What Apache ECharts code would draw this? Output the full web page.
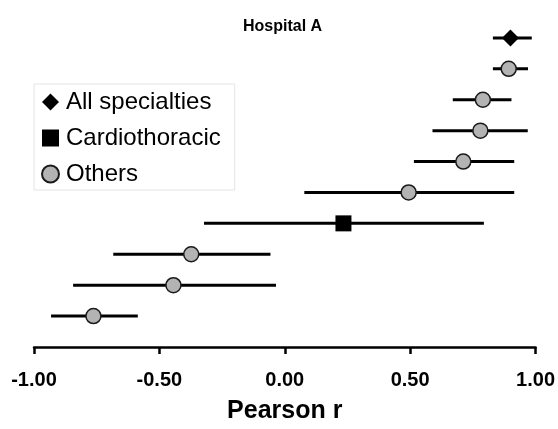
<!DOCTYPE html>
<html><head><meta charset="utf-8">
<script src="https://cdn.jsdelivr.net/npm/echarts@6/dist/echarts.min.js"></script>
<style>html,body{margin:0;padding:0;background:#fff}#c{width:558px;height:429px}</style>
</head><body><div id="c"></div>
<script>
// Row positions (1 = bottom, 10 = top)
const allRow = [10];
const allR = [0.900];
const allLo = [0.830];
const allHi = [0.985];

const cardioRow = [4];
const cardioR = [0.234];
const cardioLo = [-0.322];
const cardioHi = [0.794];

const otherRows = [9, 8, 7, 6, 5, 3, 2, 1];
const otherR  = [0.893, 0.790, 0.780, 0.712, 0.494, -0.373, -0.444, -0.763];
const otherLo = [0.830, 0.670, 0.589, 0.515, 0.078, -0.684, -0.844, -0.932];
const otherHi = [0.970, 0.904, 0.969, 0.915, 0.915, -0.057, -0.035, -0.586];

const xTicks = [-1, -0.5, 0, 0.5, 1];

const ebData = [];
allRow.forEach((r,i)=>ebData.push([allLo[i], allHi[i], r]));
cardioRow.forEach((r,i)=>ebData.push([cardioLo[i], cardioHi[i], r]));
otherRows.forEach((r,i)=>ebData.push([otherLo[i], otherHi[i], r]));

const chart = echarts.init(document.getElementById('c'));
const FONT = '"Liberation Sans", Arial, sans-serif';
chart.setOption({
  animation: false,
  textStyle: {fontFamily: FONT},
  title: {
    text: 'Hospital A', left: 238, top: 14,
    textStyle: {fontFamily: FONT, fontSize: 16, fontWeight: 'bold', color: '#000'}
  },
  legend: {
    orient: 'vertical', left: 34, top: 84,
    data: ['All specialties', 'Cardiothoracic', 'Others'],
    itemWidth: 17, itemHeight: 17, itemGap: 12,
    padding: [6, 14, 4, 7],
    borderColor: '#e4e4e4', borderWidth: 1,
    textStyle: {fontFamily: FONT, fontSize: 24, color: '#000', padding: [0,0,0,2]}
  },
  grid: {left: 34, right: 21, top: 7, bottom: 80, containLabel: false},
  xAxis: {
    type: 'value', min: xTicks[0], max: xTicks[xTicks.length-1], interval: 0.5,
    axisLine: {show: true, onZero: false, lineStyle: {color: '#000', width: 2.5}},
    axisTick: {show: true, length: 7, inside: false, lineStyle: {color: '#000', width: 2.5}},
    splitLine: {show: false},
    axisLabel: {formatter: v => v.toFixed(2), fontFamily: FONT, fontSize: 20, fontWeight: 'bold', color: '#000', margin: 23},
    name: 'Pearson r', nameLocation: 'middle', nameGap: 52,
    nameTextStyle: {fontFamily: FONT, fontSize: 25, fontWeight: 'bold', color: '#000'}
  },
  yAxis: {
    type: 'value', min: 0, max: 11, show: false
  },
  series: [
    {
      type: 'custom', name: 'ci', z: 1,
      data: ebData,
      encode: {x: [0, 1], y: 2},
      renderItem: function(params, api) {
        const a = api.coord([api.value(0), api.value(2)]);
        const b = api.coord([api.value(1), api.value(2)]);
        return {type: 'line', shape: {x1: a[0], y1: a[1], x2: b[0], y2: b[1]},
          style: {stroke: '#000', lineWidth: 3}};
      },
      silent: true
    },
    {
      type: 'scatter', name: 'All specialties', z: 3, symbol: 'diamond', symbolSize: [17, 17],
      data: allR.map((v,i)=>[v, allRow[i]]),
      itemStyle: {color: '#000', opacity: 1}
    },
    {
      type: 'scatter', name: 'Cardiothoracic', z: 3, symbol: 'rect', symbolSize: 16,
      data: cardioR.map((v,i)=>[v, cardioRow[i]]),
      itemStyle: {color: '#000', opacity: 1}
    },
    {
      type: 'scatter', name: 'Others', z: 3, symbol: 'circle', symbolSize: 15,
      data: otherR.map((v,i)=>[v, otherRows[i]]),
      itemStyle: {color: '#b3b3b3', borderColor: '#1a1a1a', borderWidth: 1.5, opacity: 1}
    }
  ]
});
</script></body></html>
